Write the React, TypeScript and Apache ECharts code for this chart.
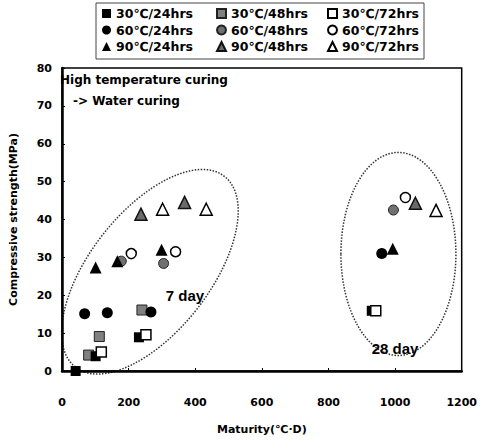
import React, { useEffect, useRef } from "react";
import * as echarts from "echarts";

// Maturity (°C·D), compressive strength (MPa)
const s30_24: number[][] = [[41, 0], [101, 3.9], [231, 8.9], [930, 15.9]];
const s30_48: number[][] = [[80, 4.2], [112, 9.1], [240, 16.1]];
const s30_72: number[][] = [[118, 5.0], [252, 9.6], [942, 15.9]];
const s60_24: number[][] = [[68, 15.1], [136, 15.4], [267, 15.6], [960, 31.0]];
const s60_48: number[][] = [[178, 29.0], [305, 28.4], [995, 42.5]];
const s60_72: number[][] = [[208, 31.0], [341, 31.5], [1031, 45.8]];
const s90_24: number[][] = [[101, 27.3], [166, 29.0], [299, 32.0], [993, 32.3]];
const s90_48: number[][] = [[237, 41.4], [368, 44.5], [1061, 44.3]];
const s90_72: number[][] = [[302, 42.7], [433, 42.7], [1123, 42.4]];

const legendCol1 = ["30℃/24hrs", "60℃/24hrs", "90℃/24hrs"];
const legendCol2 = ["30℃/48hrs", "60℃/48hrs", "90℃/48hrs"];
const legendCol3 = ["30℃/72hrs", "60℃/72hrs", "90℃/72hrs"];

// annotation ellipse centres in data coordinates
const ellipse7Center = [264, 26.2];
const ellipse28Center = [1010, 30.9];

const FONT = "DejaVu Sans";

export default function App() {
  const ref = useRef<HTMLDivElement>(null);
  useEffect(() => {
    document.body.style.margin = "0";
    if (!ref.current) return;
    const chart = echarts.init(ref.current, undefined, { renderer: "svg" });
    const mk = (
      name: string,
      data: number[][],
      symbol: string,
      size: number,
      color: string,
      border: string,
      bw: number
    ) => ({
      name,
      type: "scatter",
      data,
      symbol,
      symbolSize: size,
      itemStyle: { color, borderColor: border, borderWidth: bw, opacity: 1 },
      emphasis: { disabled: true },
    });
    const legendBase = {
      orient: "vertical",
      top: 7,
      itemWidth: 9,
      itemHeight: 9,
      itemGap: 3.5,
      padding: 0,
      selectedMode: false,
      textStyle: { fontFamily: FONT, fontWeight: "bold", fontSize: 12.5, color: "#000", lineHeight: 13 },
    };
    chart.setOption({
      animation: false,
      backgroundColor: "#fff",
      legend: [
        { ...legendBase, left: 102, data: legendCol1 },
        { ...legendBase, left: 216, data: legendCol2 },
        { ...legendBase, left: 327, data: legendCol3 },
      ],
      grid: {
        left: 58,
        right: 15,
        top: 68,
        bottom: 63,
        show: true,
        borderColor: "#000",
        borderWidth: 1.5,
        backgroundColor: "transparent",
      },
      xAxis: {
        type: "value",
        min: 0,
        max: 1200,
        interval: 200,
        name: "Maturity(℃·D)",
        nameLocation: "middle",
        nameGap: 53,
        nameTextStyle: { fontFamily: FONT, fontWeight: "bold", fontSize: 11, color: "#000" },
        axisLine: { lineStyle: { color: "#000", width: 2.5 } },
        axisTick: { inside: true, length: 3, lineStyle: { color: "#000" } },
        axisLabel: {
          fontFamily: FONT,
          fontWeight: "bold",
          fontSize: 11,
          color: "#000",
          margin: 26,
          formatter: (v: number) => String(v),
        },
        splitLine: { show: false },
      },
      yAxis: {
        type: "value",
        min: 0,
        max: 80,
        interval: 10,
        name: "Compressive strength(MPa)",
        nameLocation: "middle",
        nameGap: 43,
        nameTextStyle: { fontFamily: FONT, fontWeight: "bold", fontSize: 11, color: "#000" },
        axisLine: { show: true, lineStyle: { color: "#000", width: 2.5 } },
        axisTick: { show: true, inside: true, length: 3, lineStyle: { color: "#000" } },
        axisLabel: { fontFamily: FONT, fontWeight: "bold", fontSize: 11, color: "#000", margin: 10 },
        splitLine: { show: false },
      },
      series: [
        mk("30℃/48hrs", s30_48, "rect", 10, "#808080", "#222", 1),
        mk("30℃/24hrs", s30_24, "rect", 10, "#000", "#000", 0),
        mk("30℃/72hrs", s30_72, "rect", 10, "#fff", "#000", 1.5),
        mk("60℃/48hrs", s60_48, "circle", 10, "#707070", "#222", 1),
        mk("60℃/24hrs", s60_24, "circle", 11, "#000", "#000", 0),
        mk("60℃/72hrs", s60_72, "circle", 10, "#fff", "#000", 1.5),
        mk("90℃/48hrs", s90_48, "triangle", 12, "#6a6a6a", "#111", 1.5),
        mk("90℃/24hrs", s90_24, "triangle", 12, "#000", "#000", 0),
        mk("90℃/72hrs", s90_72, "triangle", 12, "#fff", "#000", 1.5),
      ],
    });
    const c7 = chart.convertToPixel({ gridIndex: 0 }, ellipse7Center) as number[];
    const c28 = chart.convertToPixel({ gridIndex: 0 }, ellipse28Center) as number[];
    const dotted = { fill: "none", stroke: "#333", lineWidth: 1.5, lineDash: [1.5, 1.5] };
    chart.setOption({
      graphic: [
        {
          type: "rect",
          shape: { x: 96, y: 3, width: 328, height: 56 },
          style: { fill: "none", stroke: "#444", lineWidth: 1 },
          silent: true,
        },
        {
          type: "ellipse",
          x: c7[0],
          y: c7[1],
          rotation: (52 * Math.PI) / 180,
          shape: { cx: 0, cy: 0, rx: 121, ry: 60 },
          style: dotted,
          silent: true,
        },
        {
          type: "ellipse",
          x: c28[0],
          y: c28[1],
          shape: { cx: 0, cy: 0, rx: 57.5, ry: 101.5 },
          style: dotted,
          silent: true,
        },
        {
          type: "text",
          left: 60,
          top: 74,
          style: { text: "High temperature curing", fontFamily: FONT, fontWeight: "bold", fontSize: 12, fill: "#000" },
          silent: true,
        },
        {
          type: "text",
          left: 73,
          top: 95,
          style: { text: "-> Water curing", fontFamily: FONT, fontWeight: "bold", fontSize: 12, fill: "#000" },
          silent: true,
        },
        {
          type: "text",
          x: 185,
          y: 295,
          style: { text: "7 day", fontFamily: "Liberation Sans Narrow, Liberation Sans", fontWeight: "bold", fontSize: 15, fill: "#000", align: "center", verticalAlign: "middle" },
          silent: true,
        },
        {
          type: "text",
          x: 395,
          y: 348,
          style: { text: "28 day", fontFamily: "Liberation Sans Narrow, Liberation Sans", fontWeight: "bold", fontSize: 15, fill: "#000", align: "center", verticalAlign: "middle" },
          silent: true,
        },
      ],
    });
    return () => chart.dispose();
  }, []);
  return <div ref={ref} style={{ width: 480, height: 440 }} />;
}
